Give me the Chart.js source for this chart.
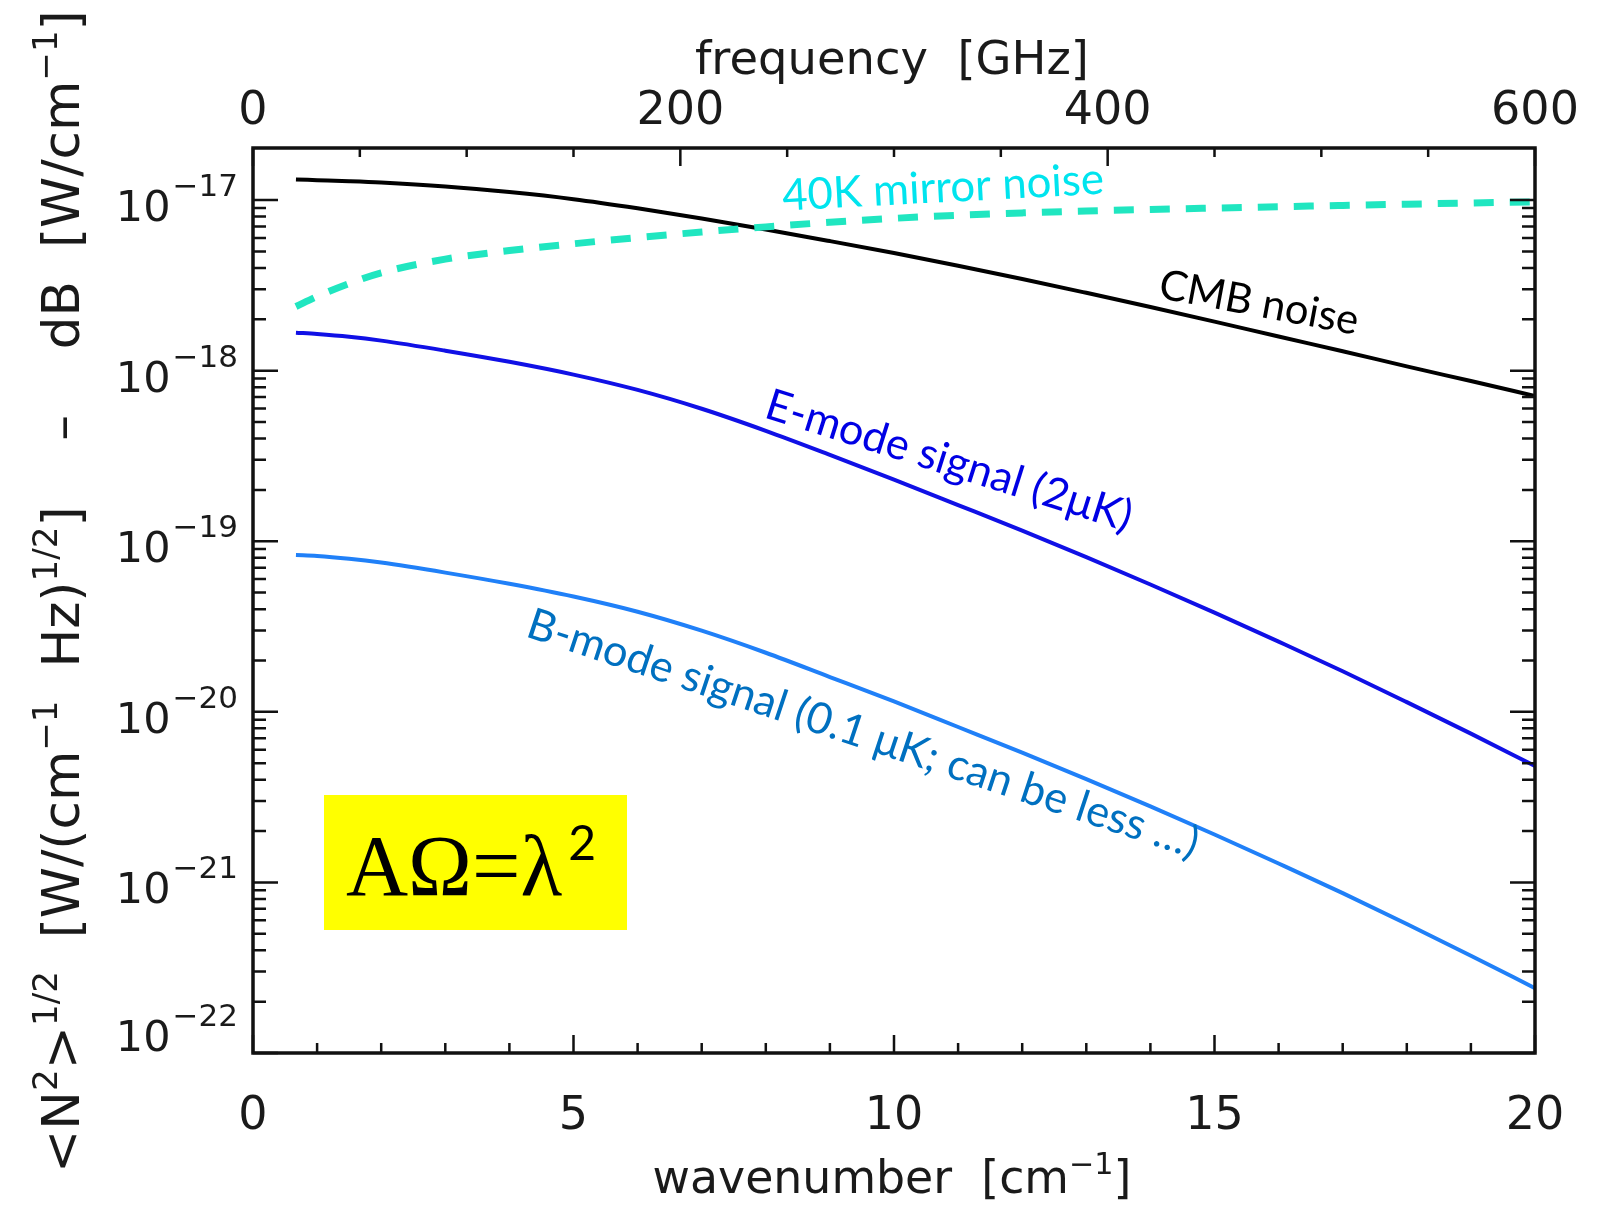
<!DOCTYPE html>
<html>
<head>
<meta charset="utf-8">
<script src="https://cdn.jsdelivr.net/npm/chart.js@4.4.1/dist/chart.umd.min.js"></script>
<style>
  html, body { margin: 0; padding: 0; background: #fff; }
  #wrap { width: 1599px; height: 1209px; }
</style>
</head>
<body>
<div id="wrap"><canvas id="noiseChart" width="1599" height="1209"></canvas></div>
<script>
// values (wavenumber in cm^-1, NEP in W/(cm^-1 Hz)^1/2)
var wavenumber  = [0.67, 1, 1.5, 2, 3, 4, 5, 6, 7, 8, 9, 10, 11, 12, 13, 14, 15, 16, 17, 18, 19, 20];
var cmbNoise    = [1.321e-17, 1.309e-17, 1.291e-17, 1.268e-17, 1.202e-17, 1.114e-17, 1.012e-17, 8.95e-18, 7.80e-18, 6.73e-18,
                   5.75e-18, 4.89e-18, 4.12e-18, 3.45e-18, 2.86e-18, 2.36e-18, 1.94e-18, 1.585e-18, 1.30e-18, 1.06e-18,
                   8.69e-19, 7.11e-19];
var mirrorNoise = [2.377e-18, 2.723e-18, 3.243e-18, 3.75e-18, 4.508e-18, 5.058e-18, 5.546e-18, 6.026e-18, 6.501e-18, 6.966e-18,
                   7.413e-18, 7.816e-18, 8.147e-18, 8.414e-18, 8.63e-18, 8.81e-18, 8.974e-18, 9.141e-18, 9.311e-18, 9.462e-18,
                   9.616e-18, 9.772e-18];
var eModeSignal = [1.67e-18, 1.64e-18, 1.58e-18, 1.50e-18, 1.31e-18, 1.127e-18, 9.48e-19, 7.71e-19, 5.98e-19, 4.44e-19,
                   3.21e-19, 2.30e-19, 1.63e-19, 1.153e-19, 8.07e-20, 5.58e-20, 3.82e-20, 2.58e-20, 1.73e-20, 1.14e-20,
                   7.45e-21, 4.81e-21];
var bModeSignal = [8.3e-20, 8.2e-20, 7.9e-20, 7.5e-20, 6.55e-20, 5.63e-20, 4.74e-20, 3.86e-20, 2.99e-20, 2.22e-20,
                   1.6e-20, 1.15e-20, 8.15e-21, 5.77e-21, 4.03e-21, 2.79e-21, 1.91e-21, 1.29e-21, 8.65e-22, 5.7e-22,
                   3.72e-22, 2.4e-22];

var xTicks    = [0, 5, 10, 15, 20];
var freqTicks = [0, 200, 400, 600];
var yTickExps = [-17, -18, -19, -20, -21, -22];

function pts(ys) {
    return wavenumber.map(function (x, i) { return { x: x, y: ys[i] }; });
}

var AXIS_FONT = '"DejaVu Sans", sans-serif';
var NOTE_FONT = 'Lato, "Open Sans", sans-serif';

// draw text made of normal and superscript parts, left aligned at baseline
function richWidth(ctx, parts, size) {
    var w = 0;
    parts.forEach(function (p) {
        ctx.font = (p.sup ? size * 0.66 : size) + 'px ' + AXIS_FONT;
        w += ctx.measureText(p.t).width;
    });
    return w;
}
function drawRich(ctx, parts, x, y, size) {
    parts.forEach(function (p) {
        var s = p.sup ? size * 0.66 : size;
        ctx.font = s + 'px ' + AXIS_FONT;
        ctx.fillText(p.t, x, p.sup ? y - size * 0.42 : y);
        x += ctx.measureText(p.t).width;
    });
}
function fitSize(ctx, parts, width) {
    return 100 * width / richWidth(ctx, parts, 100);
}

// rotated note, font size chosen so the text spans the given width
function note(ctx, text, cx, cy, deg, width, color) {
    ctx.save();
    ctx.font = '100px ' + NOTE_FONT;
    var size = 100 * width / ctx.measureText(text).width;
    ctx.font = size + 'px ' + NOTE_FONT;
    ctx.fillStyle = color;
    ctx.textAlign = 'center';
    ctx.textBaseline = 'middle';
    ctx.translate(cx, cy);
    ctx.rotate(deg * Math.PI / 180);
    ctx.fillText(text, 0, 0);
    ctx.restore();
}

var framePlugin = {
    id: 'framePlugin',
    afterDatasetsDraw: function (chart) {
        var ctx = chart.ctx, a = chart.chartArea;
        var xs = chart.scales.x, x2 = chart.scales.x2, ys = chart.scales.y;
        ctx.save();
        ctx.strokeStyle = '#111';
        ctx.fillStyle = '#1a1a1a';

        // inward ticks
        ctx.lineWidth = 2.5;
        ctx.beginPath();
        for (var v = 0; v <= 20; v++) {
            var px = xs.getPixelForValue(v);
            var len = v % 5 === 0 ? 18 : 10;
            ctx.moveTo(px, a.bottom); ctx.lineTo(px, a.bottom - len);
        }
        for (var f = 0; f <= 600; f += 50) {
            var fx = x2.getPixelForValue(f);
            var flen = f % 200 === 0 ? 18 : 9;
            ctx.moveTo(fx, a.top); ctx.lineTo(fx, a.top + flen);
        }
        for (var e = -22; e <= -17; e++) {
            for (var k = 1; k <= 9; k++) {
                var py = ys.getPixelForValue(k * Math.pow(10, e));
                if (py < a.top + 1 || py > a.bottom) continue;
                var l = k === 1 ? 25 : 13;
                ctx.moveTo(a.left, py); ctx.lineTo(a.left + l, py);
                ctx.moveTo(a.right, py); ctx.lineTo(a.right - l, py);
            }
        }
        ctx.stroke();

        ctx.lineWidth = 3.5;
        ctx.strokeRect(a.left, a.top, a.right - a.left, a.bottom - a.top);

        // tick labels
        ctx.textAlign = 'center';
        ctx.textBaseline = 'alphabetic';
        ctx.font = '46px ' + AXIS_FONT;
        xTicks.forEach(function (t) {
            ctx.fillText(String(t), xs.getPixelForValue(t), 1129);
        });
        freqTicks.forEach(function (t) {
            ctx.fillText(String(t), x2.getPixelForValue(t), 124);
        });
        ctx.textAlign = 'left';
        yTickExps.forEach(function (e) {
            var py = ys.getPixelForValue(Math.pow(10, e));
            var base = Math.min(py + 21, a.bottom - 2);
            ctx.font = '43px ' + AXIS_FONT;
            var w10 = ctx.measureText('10').width;
            ctx.font = '31px ' + AXIS_FONT;
            var wexp = ctx.measureText('\u2212' + (-e)).width;
            var x0 = 238 - wexp - w10 - 2;
            ctx.font = '43px ' + AXIS_FONT;
            ctx.fillText('10', x0, base);
            ctx.font = '31px ' + AXIS_FONT;
            ctx.fillText('\u2212' + (-e), x0 + w10 + 2, base - 25);
        });

        // axis titles
        var top = [{ t: 'frequency  [GHz]' }];
        var s = fitSize(ctx, top, 394);
        drawRich(ctx, top, 892 - 197, 74, s);

        var bottom = [{ t: 'wavenumber  [cm' }, { t: '\u22121', sup: true }, { t: ']' }];
        s = fitSize(ctx, bottom, 479);
        drawRich(ctx, bottom, 892 - 239.5, 1193, s);

        var left = [{ t: '<N' }, { t: '2', sup: true }, { t: '>' }, { t: '1/2', sup: true },
                    { t: '  [W/(cm' }, { t: '\u22121', sup: true }, { t: '  Hz)' }, { t: '1/2', sup: true },
                    { t: ']    \u2013    dB  [W/cm' }, { t: '\u22121', sup: true }, { t: ']' }];
        s = fitSize(ctx, left, 1163);
        ctx.save();
        ctx.translate(79, 1173);
        ctx.rotate(-Math.PI / 2);
        drawRich(ctx, left, 0, 0, s);
        ctx.restore();

        // curve notes
        note(ctx, '40K mirror noise', 943, 188, -3, 322, '#00e4ee');
        note(ctx, 'CMB noise', 1259, 303, 10.6, 202, '#000000');
        note(ctx, 'E-mode signal (2\u03bcK)', 949, 461, 17.5, 382, '#0000e4');
        note(ctx, 'B-mode signal (0.1 \u03bcK; can be less \u2026)', 863, 734, 18.4, 705, '#0070c0');

        // yellow formula box
        ctx.fillStyle = '#ffff00';
        ctx.fillRect(324, 795, 303, 135);
        ctx.fillStyle = '#000';
        ctx.textAlign = 'left';
        ctx.font = '86px "Liberation Serif", serif';
        ctx.fillText('A\u03a9=\u03bb', 346, 895);
        var wf = ctx.measureText('A\u03a9=\u03bb').width;
        ctx.font = '48px ' + NOTE_FONT;
        ctx.fillText('2', 346 + wf + 6, 860);

        ctx.restore();
    }
};

var ctx = document.getElementById('noiseChart').getContext('2d');
var noiseChart = new Chart(ctx, {
    type: 'line',
    data: {
        datasets: [{
            label: '40K mirror noise',
            data: pts(mirrorNoise),
            borderColor: '#20e6c0',
            borderWidth: 7,
            borderDash: [20, 16]
        }, {
            label: 'CMB noise',
            data: pts(cmbNoise),
            borderColor: '#000000',
            borderWidth: 4
        }, {
            label: 'E-mode signal',
            data: pts(eModeSignal),
            borderColor: '#1010e6',
            borderWidth: 4
        }, {
            label: 'B-mode signal',
            data: pts(bModeSignal),
            borderColor: '#2080f8',
            borderWidth: 4
        }]
    },
    options: {
        responsive: false,
        animation: false,
        layout: { padding: { left: 253, right: 64, top: 148, bottom: 156 } },
        elements: {
            point: { radius: 0 },
            line: { cubicInterpolationMode: 'monotone', fill: false }
        },
        plugins: { legend: { display: false }, tooltip: { enabled: false } },
        scales: {
            x: { type: 'linear', min: 0, max: 20, display: false },
            x2: { type: 'linear', min: 0, max: 600, display: false, position: 'top' },
            y: { type: 'logarithmic', min: 1e-22, max: 2.02e-17, display: false }
        }
    },
    plugins: [framePlugin]
});
</script>
</body>
</html>
